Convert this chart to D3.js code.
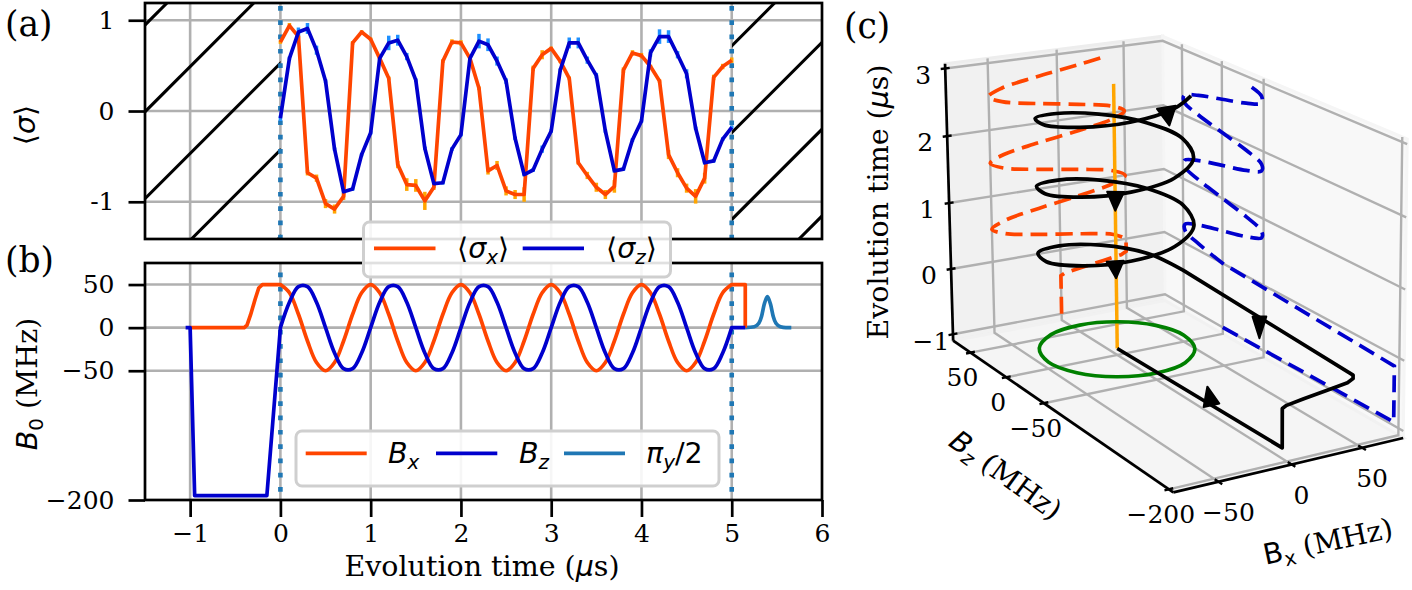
<!DOCTYPE html>
<html><head><meta charset="utf-8">
<script src="https://cdn.jsdelivr.net/npm/d3@7"></script>
<style>html,body{margin:0;padding:0;background:#fff}svg{display:block}</style>
</head><body><script>
// ---------- data ----------
const tExp = [0,.1,.2,.3,.4,.5,.6,.7,.8,.9,1,1.1,1.2,1.3,1.4,1.5,1.6,1.7,1.8,1.9,2,2.1,2.2,2.3,2.4,2.5,2.6,2.7,2.8,2.9,3,3.1,3.2,3.3,3.4,3.5,3.6,3.7,3.8,3.9,4,4.1,4.2,4.3,4.4,4.5,4.6,4.7,4.8,4.9,5];
const sigmaX = [.76,.94,.82,-.68,-.74,-1.02,-1.08,-.94,.75,.87,.79,.58,.36,-.59,-.81,-.82,-.99,-.84,.55,.76,.75,.58,.25,-.66,-.6,-.88,-.92,-.92,.47,.62,.69,.55,.36,-.57,-.71,-.84,-.92,-.83,.45,.64,.61,.49,.33,-.48,-.68,-.85,-.94,-.74,.37,.49,.56];
const sigmaZ = [-.08,.58,.87,.91,.67,.33,-.42,-.89,-.86,-.48,-.24,.58,.75,.78,.6,.34,-.41,-.8,-.79,-.42,-.26,.58,.77,.73,.55,.33,-.3,-.7,-.65,-.42,-.22,.45,.75,.75,.56,.39,-.22,-.66,-.64,-.32,-.11,.64,.82,.82,.62,.41,-.19,-.57,-.55,-.31,-.18];
const errX = [.02,.03,.02,.03,.04,.05,.05,.04,.02,.02,.02,.02,.02,.04,.07,.07,.1,.03,.02,.03,.03,.02,.02,.04,.05,.05,.05,.08,.03,.05,.02,.02,.02,.02,.04,.05,.05,.07,.03,.03,.03,.02,.02,.05,.05,.05,.08,.06,.03,.03,.03];
const errZ = [.03,.02,.05,.06,.05,.02,.02,.02,.02,.02,.02,.03,.08,.06,.04,.02,.02,.02,.02,.02,.02,.03,.08,.07,.05,.03,.02,.02,.02,.04,.02,.02,.06,.06,.04,.03,.02,.02,.02,.02,.02,.04,.08,.07,.04,.05,.02,.02,.02,.02,.02];

const fieldBx = [50,40.5,15.5,-15.5,-40.5,-50,-40.5,-15.5,15.5,40.5,50,40.5,15.5,-15.5,-40.5,-50,-40.5,-15.5,15.5,40.5,50,40.5,15.5,-15.5,-40.5,-50,-40.5,-15.5,15.5,40.5,50,40.5,15.5,-15.5,-40.5,-50,-40.5,-15.5,15.5,40.5,50,40.5,15.5,-15.5,-40.5,-50,-40.5,-15.5,15.5,40.5,50];
const fieldBz = [0,29.4,47.6,47.6,29.4,0,-29.4,-47.6,-47.6,-29.4,0,29.4,47.6,47.6,29.4,0,-29.4,-47.6,-47.6,-29.4,0,29.4,47.6,47.6,29.4,0,-29.4,-47.6,-47.6,-29.4,0,29.4,47.6,47.6,29.4,0,-29.4,-47.6,-47.6,-29.4,0,29.4,47.6,47.6,29.4,0,-29.4,-47.6,-47.6,-29.4,0];

const prepT  = [-1,-.95,-.4,-.37,-.33,-.28,-.24,-.2,-.15,0];
const prepBx = [0,0,0,3,15,33,46,50,50,50];
const prepBz = [0,-195,-195,-195,-195,-195,-195,-195,-195,0];
const stubT2d = [-1.05,-1];
const stubBz2d = [0,0];
const postT = [5,5.15,5.15];
const postBx = [50,50,0];
const postBzT = [5,5.15];
const postBz = [0,0];
const pulseT = [5.15,5.25,5.3,5.33,5.36,5.395,5.43,5.46,5.49,5.54,5.6,5.66];
const pulseV = [0,1,5,13,27,36,27,13,5,1,0,0];

const xTicksB = [-1,0,1,2,3,4,5,6];
const yTicksA = [-1,0,1];
const yTicksB = [-200,-50,0,50];
const markersT = [0,5];

// 3-D panel
const helixEndT = 2.87, tailBx = 35, tailBz = -36;
const circleBx = [50,43.3,25,0,-25,-43.3,-50,-43.3,-25,0,25,43.3];
const circleBz = [0,25,43.3,50,43.3,25,0,-25,-43.3,-50,-43.3,-25];
const ticks3Bx = [-50,0,50];
const ticks3Bz = [-200,-50,0,50];
const ticks3T  = [-1,0,1,2,3];
const limBx = [-80,80], limBz = [-205,75], limT = [-1.1,3.07];
const arrowBx = [0,50,9.4,-25,-26];
const arrowBz = [-116,-92,-49.1,-45.2,-45.2];
const arrowT  = [-.97,-.06,2.85,1.72,.72];
const arrowAng = [-102.6,90,80.7,91,86.6];
const arrowLen = [19,21.7,18.5,18.7,17];
const arrowWid = [16,13.7,19,16.8,17];

// camera calibration: world points (Bx,Bz,T) and where they appear
const calWorld = [[-80,-205,-1.1],[-80,75,-1.1],[80,-205,-1.1],[80,75,-1.1],[-80,75,3.07],[80,75,3.07],[80,-205,3.07],
 [0,0,-1],[-80,75,3],[-80,75,2],[-80,75,1],[-80,75,0],[-80,75,-1],[-80,50,-1.1],[-80,0,-1.1],[-80,-50,-1.1],[-80,-200,-1.1],[-50,-205,-1.1],[0,-205,-1.1],[50,-205,-1.1],
 [45,-22,.93],[45,-22,1.93],[-45,21,.43],[-45,21,1.43],[-45,21,2.43]];
const calPx = [[1171.7,490.7],[953.3,340],[1403.3,439.3],[1161.7,293.3],[946.7,63.3],[1161.7,38.3],[1405,133.3],
 [1118,352.5],[945,67.3],[945.5,135.3],[946.7,202.3],[950,267.7],[953.3,332.7],[971.7,354],[1008.3,379],[1045,404],[1168,488],[1216.7,481.7],[1293,465],[1363,449],
 [1197,223],[1197,157],[1037,256],[1036,190],[1036,121]];

// ---------- colours ----------
const cOrange='#ff4500', cBlue='#0000cd', cPulse='#1f77b4', cGrid='#b0b0b0', cErrX='#ffa500', cErrZ='#1e90ff';
const SERIF='"DejaVu Serif"', SANS='"DejaVu Sans"';
const LW=3.7, TICKFS=25, LABELFS=28.5;

const svg=d3.select('body').append('svg').attr('width',1412).attr('height',590).attr('viewBox','0 0 1412 590')
  .style('font-family',SERIF);

const xS=d3.scaleLinear([-1.5,6],[145,822]);
const yA=d3.scaleLinear([-1.41,1.19],[239,3]);
const yB=d3.scaleLinear([-200,75],[500,263]);
const fmt=d=>String(d).replace('-','\u2212');

function gridLines(g,xs,ys,y){
  g.selectAll('.gv').data(xs).join('line').attr('x1',d=>xS(d)).attr('x2',d=>xS(d)).attr('y1',y.range()[0]).attr('y2',y.range()[1]).attr('stroke',cGrid).attr('stroke-width',2.6);
  g.selectAll('.gh').data(ys).join('line').attr('class','h').attr('x1',145).attr('x2',822).attr('y1',d=>y(d)).attr('y2',d=>y(d)).attr('stroke',cGrid).attr('stroke-width',2.6);
}
function styleAxis(g){
  g.select('.domain').remove();
  g.selectAll('.tick line').attr('stroke','#000').attr('stroke-width',2.7);
  g.selectAll('.tick text').attr('font-family',SERIF).attr('font-size',TICKFS).attr('fill','#000');
}

// ---------- panel (a) ----------
const A=svg.append('g');
gridLines(A.append('g'),xTicksB.slice(0,-1),yTicksA,yA);
svg.append('defs').html('<clipPath id="left"><rect x="145" y="3" width="135.5" height="236"/></clipPath><clipPath id="right"><rect x="732" y="3" width="90" height="236"/></clipPath>');
const hatchSum=d3.range(0,13).map(i=>170+86.8*i);
['left','right'].forEach(id=>{
  A.append('g').attr('clip-path',`url(#${id})`).selectAll('line').data(hatchSum).join('line')
   .attr('x1',d=>d-3).attr('y1',3).attr('x2',d=>d-239).attr('y2',239).attr('stroke','#000').attr('stroke-width',3.1);
});
A.selectAll('.mk').data(markersT).join('line').attr('x1',d=>xS(d)).attr('x2',d=>xS(d)).attr('y1',6).attr('y2',239)
  .attr('stroke',cPulse).attr('stroke-width',4.6).attr('stroke-dasharray','4.7 9.6');
[[sigmaX,errX,cErrX],[sigmaZ,errZ,cErrZ]].forEach(([v,e,c])=>{
  A.append('g').selectAll('line').data(tExp).join('line')
   .attr('x1',d=>xS(d)).attr('x2',d=>xS(d)).attr('y1',(d,i)=>yA(v[i]-e[i])).attr('y2',(d,i)=>yA(v[i]+e[i]))
   .attr('stroke',c).attr('stroke-width',3.5);
});
const lineA=d3.line().x((d,i)=>xS(tExp[i])).y(d=>yA(d));
[[sigmaX,cOrange],[sigmaZ,cBlue]].forEach(([v,c])=>A.append('path').attr('d',lineA(v)).attr('fill','none').attr('stroke',c).attr('stroke-width',LW).attr('stroke-linejoin','round'));
A.append('rect').attr('x',145).attr('y',3).attr('width',677).attr('height',236).attr('fill','none').attr('stroke','#000').attr('stroke-width',2.7);
const axA=A.append('g').attr('transform','translate(145,0)').call(d3.axisLeft(yA).tickValues(yTicksA).tickFormat(d=>String(d)).tickSize(16.5).tickPadding(14));
styleAxis(axA);

// ---------- panel (b) ----------
const B=svg.append('g');
gridLines(B.append('g'),xTicksB.slice(0,-1),yTicksB.slice(1),yB);
B.selectAll('.mk').data(markersT).join('line').attr('x1',d=>xS(d)).attr('x2',d=>xS(d)).attr('y1',272.6).attr('y2',492)
  .attr('stroke',cPulse).attr('stroke-width',4.6).attr('stroke-dasharray','4.7 9.6');
const lin=d3.line().x(d=>xS(d[0])).y(d=>yB(d[1]));
const smooth=d3.line().x(d=>xS(d[0])).y(d=>yB(d[1])).curve(d3.curveCatmullRom);
const zip=(a,b)=>a.map((d,i)=>[d,b[i]]);
const join=(...ds)=>ds.map((d,i)=>i?d.replace(/^M/,'L'):d).join('');
B.append('path').attr('d',d3.line().x(d=>xS(d[0])).y(d=>yB(d[1])).curve(d3.curveMonotoneX)(zip(pulseT,pulseV))).attr('fill','none').attr('stroke',cPulse).attr('stroke-width',LW);
B.append('path').attr('d',join(lin(zip(prepT,prepBx)),smooth(zip(tExp,fieldBx)),lin(zip(postT,postBx)))).attr('fill','none').attr('stroke',cOrange).attr('stroke-width',LW).attr('stroke-linejoin','round');
B.append('path').attr('d',join(lin(zip(stubT2d,stubBz2d)),lin(zip(prepT,prepBz)),smooth(zip(tExp,fieldBz)),lin(zip(postBzT,postBz)))).attr('fill','none').attr('stroke',cBlue).attr('stroke-width',LW).attr('stroke-linejoin','round');
B.append('rect').attr('x',145).attr('y',263).attr('width',677).attr('height',237).attr('fill','none').attr('stroke','#000').attr('stroke-width',2.7);
const axBy=B.append('g').attr('transform','translate(145,0)').call(d3.axisLeft(yB).tickValues(yTicksB).tickFormat(fmt).tickSize(16.5).tickPadding(14));
styleAxis(axBy);
const axBx=B.append('g').attr('transform','translate(0,500)').call(d3.axisBottom(xS).tickValues(xTicksB).tickFormat(fmt).tickSize(17).tickPadding(7));
styleAxis(axBx);

// ---------- rich text ----------
function rich(g,x,y,parts,opt={}){
  const fs=opt.size||LABELFS;
  const t=g.append('text').attr('x',x).attr('y',y).attr('font-size',fs).attr('text-anchor',opt.anchor||'start').attr('fill','#000');
  if(opt.rotate!==undefined) t.attr('transform',`rotate(${opt.rotate} ${x} ${y})`);
  parts.forEach(p=>{
    const s=t.append('tspan').text(p.t).attr('font-family',p.f||SERIF).attr('font-style',p.i?'italic':'normal');
    if(p.sub){s.attr('font-size',fs*.7).attr('dy',fs*.2);}
    if(p.up){s.attr('dy',-fs*.2);}
  });
  return t;
}
rich(svg,5,36,[{t:'(a)'}],{size:34.5});
rich(svg,5,272,[{t:'(b)'}],{size:34.5});
rich(svg,844,38,[{t:'(c)'}],{size:34.5});
rich(svg,35,125,[{t:'\u27E8',f:SANS},{t:'\u03C3',f:SANS,i:1},{t:'\u27E9',f:SANS}],{rotate:-90,anchor:'middle'});
rich(svg,37,384,[{t:'B',f:SANS,i:1},{t:'0',f:SANS,sub:1},{t:' (MHz)',up:1}],{rotate:-90,anchor:'middle'});
rich(svg,482,576,[{t:'Evolution time ('},{t:'\u03BC',f:SANS,i:1},{t:'s)'}],{anchor:'middle'});

// ---------- legends ----------
function legend(x,y,w,h,items){
  const g=svg.append('g');
  g.append('rect').attr('x',x).attr('y',y).attr('width',w).attr('height',h).attr('rx',6).attr('fill','#fff').attr('fill-opacity',.88).attr('stroke','#cfcfcf').attr('stroke-width',3);
  items.forEach(it=>{
    g.append('line').attr('x1',it.x1).attr('x2',it.x2).attr('y1',it.y).attr('y2',it.y).attr('stroke',it.c).attr('stroke-width',LW);
    rich(g,it.tx,it.y+10,it.parts);
  });
}
const sg=(s)=>[{t:'\u27E8',f:SANS},{t:'\u03C3',f:SANS,i:1},{t:s,f:SANS,i:1,sub:1},{t:'\u27E9',f:SANS,up:1}];
legend(363.5,222,307,55,[
 {x1:374,x2:435.5,y:248.3,c:cOrange,tx:457,parts:sg('x')},
 {x1:522.7,x2:584,y:248.3,c:cBlue,tx:606,parts:sg('z')}]);
legend(296,431,423,55,[
 {x1:305.7,x2:366.7,y:453.3,c:cOrange,tx:388,parts:[{t:'B',f:SANS,i:1},{t:'x',f:SANS,i:1,sub:1}]},
 {x1:436,x2:497.3,y:453.3,c:cBlue,tx:519,parts:[{t:'B',f:SANS,i:1},{t:'z',f:SANS,i:1,sub:1}]},
 {x1:564,x2:625,y:453.3,c:cPulse,tx:646,parts:[{t:'\u03C0',f:SANS,i:1},{t:'y',f:SANS,i:1,sub:1},{t:'/2',f:SANS,up:1}]}]);

// ---------- 3-D camera (least squares fit of a projective camera) ----------
const nU=d3.scaleLinear(limBx,[0,1]), nV=d3.scaleLinear(limBz,[0,1]), nW=d3.scaleLinear(limT,[0,1]);
function solve(A,b){
  const n=b.length,M=A.map((r,i)=>[...r,b[i]]);
  for(let c=0;c<n;c++){
    let p=c;for(let r=c+1;r<n;r++)if(Math.abs(M[r][c])>Math.abs(M[p][c]))p=r;
    [M[c],M[p]]=[M[p],M[c]];
    for(let r=0;r<n;r++){if(r===c)continue;const f=M[r][c]/M[c][c];for(let k=c;k<=n;k++)M[r][k]-=f*M[c][k];}
  }
  return M.map((r,i)=>r[n]/r[i]);
}
const cam=(()=>{
  const rows=[],rhs=[];
  calWorld.forEach((w,i)=>{
    const X=nU(w[0]),Y=nV(w[1]),Z=nW(w[2]),x=calPx[i][0]/1000,y=calPx[i][1]/1000;
    rows.push([X,Y,Z,1,0,0,0,0,-x*X,-x*Y,-x*Z]);rhs.push(x);
    rows.push([0,0,0,0,X,Y,Z,1,-y*X,-y*Y,-y*Z]);rhs.push(y);
  });
  const N=d3.range(11).map(i=>d3.range(11).map(j=>d3.sum(rows,r=>r[i]*r[j])));
  const v=d3.range(11).map(i=>d3.sum(rows,(r,k)=>r[i]*rhs[k]));
  return solve(N,v);
})();
function pr(bx,bz,t){
  const X=nU(bx),Y=nV(bz),Z=nW(t),p=cam,w=p[8]*X+p[9]*Y+p[10]*Z+1;
  return [(p[0]*X+p[1]*Y+p[2]*Z+p[3])/w*1000,(p[4]*X+p[5]*Y+p[6]*Z+p[7])/w*1000];
}
const C=svg.append('g');
const [bx0,bx1]=limBx,[bz0,bz1]=limBz,[t0,t1]=limT;
const l3=d3.line(), c3=d3.line().curve(d3.curveCatmullRom), cc3=d3.line().curve(d3.curveCatmullRomClosed);
const panes=[
 {pts:[[bx0,bz1,t0],[bx1,bz1,t0],[bx1,bz1,t1],[bx0,bz1,t1]],f:'#f1f1f1',s:'#ededed'},
 {pts:[[bx1,bz1,t0],[bx1,bz0,t0],[bx1,bz0,t1],[bx1,bz1,t1]],f:'#f8f8f8',s:'#f5f5f5'},
 {pts:[[bx0,bz0,t0],[bx1,bz0,t0],[bx1,bz1,t0],[bx0,bz1,t0]],f:'#f5f5f5',s:'#f1f1f1'}];
C.selectAll('.pane').data(panes).join('path').attr('d',d=>l3(d.pts.map(p=>pr(...p)))+'Z').attr('fill',d=>d.f).attr('stroke',d=>d.s).attr('stroke-width',3);
const gridP=[];
ticks3Bx.forEach(v=>gridP.push([[v,bz0,t0],[v,bz1,t0],[v,bz1,t1]]));
ticks3Bz.forEach(v=>gridP.push([[bx0,v,t0],[bx1,v,t0],[bx1,v,t1]]));
ticks3T.forEach(v=>gridP.push([[bx0,bz1,v],[bx1,bz1,v],[bx1,bz0,v]]));
C.selectAll('.g3').data(gridP).join('path').attr('d',d=>l3(d.map(p=>pr(...p)))).attr('fill','none').attr('stroke',cGrid).attr('stroke-width',2.4);
// axis edges
[[[bx0,bz1,t0],[bx0,bz1,t1]],[[bx0,bz1,t0],[bx0,bz0,t0]],[[bx0,bz0,t0],[bx1,bz0,t0]]].forEach(e=>
  C.append('path').attr('d',l3(e.map(p=>pr(...p)))).attr('stroke','#000').attr('stroke-width',2.7).attr('fill','none'));
function tick3(p,dir){
  const a=pr(...p),b=pr(...dir),L=Math.hypot(b[0]-a[0],b[1]-a[1]),ux=(b[0]-a[0])/L,uy=(b[1]-a[1])/L;
  C.append('line').attr('x1',a[0]-ux*4.5).attr('y1',a[1]-uy*4.5).attr('x2',a[0]+ux*4.5).attr('y2',a[1]+uy*4.5).attr('stroke','#000').attr('stroke-width',2.4);
  return a;
}
function lab3(a,dx,dy,s){C.append('text').attr('x',a[0]+dx).attr('y',a[1]+dy+9.3).attr('text-anchor','middle').attr('font-size',TICKFS).text(s);}
ticks3T.forEach(v=>lab3(tick3([bx0,bz1,v],[bx1,bz1,v]),-22,6,fmt(v)));
ticks3Bz.forEach(v=>lab3(tick3([bx0,v,t0],[bx1,v,t0]),-8,24.5,fmt(v)));
ticks3Bx.forEach(v=>lab3(tick3([v,bz0,t0],[v,bz1,t0]),10,30,fmt(v)));

// traces
const hi=tExp.filter(t=>t<=helixEndT).length;
const preXYZ=prepT.map((t,i)=>[prepBx[i],prepBz[i],t]);
const helXYZ=tExp.slice(0,hi).map((t,i)=>[fieldBx[i],fieldBz[i],t]).concat([[tailBx,tailBz,helixEndT]]);
const tr=(f)=>join(l3(preXYZ.map(f)),c3(helXYZ.map(f)));
C.append('path').attr('d',tr(p=>pr(p[0],bz1,p[2]))).attr('fill','none').attr('stroke',cOrange).attr('stroke-width',LW).attr('stroke-dasharray','17 8');
C.append('path').attr('d',tr(p=>pr(bx1,p[1],p[2]))).attr('fill','none').attr('stroke',cBlue).attr('stroke-width',LW).attr('stroke-dasharray','17 8');
C.append('path').attr('d',l3([pr(0,0,-1),pr(0,0,2.95)])).attr('fill','none').attr('stroke','#ffa500').attr('stroke-width',3.5);
C.append('path').attr('d',cc3(circleBx.map((b,i)=>pr(b,circleBz[i],-1)))).attr('fill','none').attr('stroke','#008000').attr('stroke-width',LW);
C.append('path').attr('d',tr(p=>pr(p[0],p[1],p[2]))).attr('fill','none').attr('stroke','#000').attr('stroke-width',LW).attr('stroke-linejoin','round');
C.selectAll('.arrow').data(arrowT).join('path').attr('d',(t,i)=>{
  const b=pr(arrowBx[i],arrowBz[i],t),a=arrowAng[i]*Math.PI/180,L=arrowLen[i],W=arrowWid[i]/2;
  const ux=Math.cos(a),uy=Math.sin(a);
  return l3([[b[0]+ux*L,b[1]+uy*L],[b[0]-uy*W,b[1]+ux*W],[b[0]+uy*W,b[1]-ux*W]])+'Z';
}).attr('fill','#000').attr('stroke','#000').attr('stroke-width',2).attr('stroke-linejoin','round');

// 3-D labels
rich(svg,888,202,[{t:'Evolution time ('},{t:'\u03BC',f:SANS,i:1},{t:'s)'}],{rotate:-90,anchor:'middle'});
rich(svg,1000,483,[{t:'B',f:SANS,i:1},{t:'z',f:SANS,i:1,sub:1},{t:' (MHz)',up:1}],{rotate:36,anchor:'middle'});
rich(svg,1330,551,[{t:'B',f:SANS},{t:'x',f:SANS,sub:1},{t:' (MHz)',up:1}],{rotate:-12,anchor:'middle'});
</script></body></html>
